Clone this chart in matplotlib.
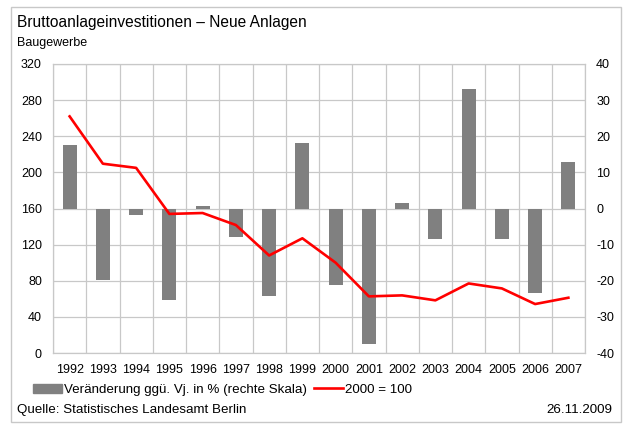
import numpy as np
import matplotlib
matplotlib.use("Agg")
import matplotlib.pyplot as plt
from matplotlib.patches import Patch, Rectangle
from matplotlib.lines import Line2D

plt.rcParams['font.family'] = ['Liberation Sans', 'DejaVu Sans']
plt.rcParams['axes.unicode_minus'] = False

years = [str(y) for y in range(1992, 2008)]
# Veränderung ggü. Vorjahr in % (rechte Skala)
change = [17.7, -19.9, -1.9, -25.2, 0.6, -8.0, -24.1, 18.0,
          -21.3, -37.6, 1.4, -8.5, 33.2, -8.5, -23.5, 13.0]
# Index 2000 = 100 (linke Skala)
index = [262, 209.6, 205, 154, 155, 141.7, 108, 127,
         100, 62.7, 63.8, 58.3, 77, 71.5, 54.2, 61.2]

left_ticks = [0, 40, 80, 120, 160, 200, 240, 280, 320]
right_ticks = [-40, -30, -20, -10, 0, 10, 20, 30, 40]

grid_col = '#c8c8c8'
fs = 9
x = np.arange(len(years))

fig = plt.figure(figsize=(6.23, 4.24), dpi=100)
ax = fig.add_axes([53/623, 1-353/424, 532/623, 289/424])
ax2 = ax.twinx()

# bars on right scale
ax.bar(x, change, width=0.42, color='#808080', zorder=2)
ax.set_ylim(-40, 40)
ax.set_yticks(right_ticks)
ax.set_xlim(-0.5, len(years)-0.5)
ax.set_xticks(x)
ax.set_xticklabels(years)
ax.set_xticks(np.arange(-0.5, len(years)), minor=True)
ax.set_axisbelow(True)
ax.grid(axis='y', color=grid_col, lw=0.9)
ax.grid(axis='x', which='minor', color=grid_col, lw=0.9)
ax.tick_params(which='both', length=0, labelsize=fs)
ax.tick_params(axis='y', pad=8)
ax.tick_params(axis='x', pad=8)
for s in ax.spines.values():
    s.set_color(grid_col)
    s.set_linewidth(0.9)

# line on left scale
ax2.plot(x, index, color='#ff0000', lw=1.9, zorder=3)
ax2.set_ylim(0, 320)
ax2.set_yticks(left_ticks)
ax2.tick_params(length=0, labelsize=fs, pad=8)
for s in ax2.spines.values():
    s.set_visible(False)

ax.yaxis.tick_right()
ax2.yaxis.tick_left()

fig.text(17/623, 1-22/424, 'Bruttoanlageinvestitionen – Neue Anlagen',
         fontsize=11.2, va='center', ha='left')
fig.text(17/623, 1-43/424, 'Baugewerbe', fontsize=fs, va='center', ha='left')

handles = [Patch(color='#808080'), Line2D([], [], color='#ff0000', lw=1.9)]
labels = ['Veränderung ggü. Vj. in % (rechte Skala)', '2000 = 100']
fig.legend(handles, labels, loc='center left', bbox_to_anchor=(33/623, 1-390/424),
           ncol=2, frameon=False, fontsize=9.6, handlelength=2.2, handleheight=0.7,
           handletextpad=0.15, columnspacing=0.5, borderpad=0, borderaxespad=0)

fig.text(17/623, 1-410/424, 'Quelle: Statistisches Landesamt Berlin',
         fontsize=9.6, va='center', ha='left')
fig.text(612/623, 1-410/424, '26.11.2009', fontsize=9.6, va='center', ha='right')

fig.patches.append(Rectangle((11/623, 2/424), 610/623, 415/424, transform=fig.transFigure,
                             fill=False, edgecolor='#c8c8c8', lw=1))

fig.savefig('out.png', dpi=100)
